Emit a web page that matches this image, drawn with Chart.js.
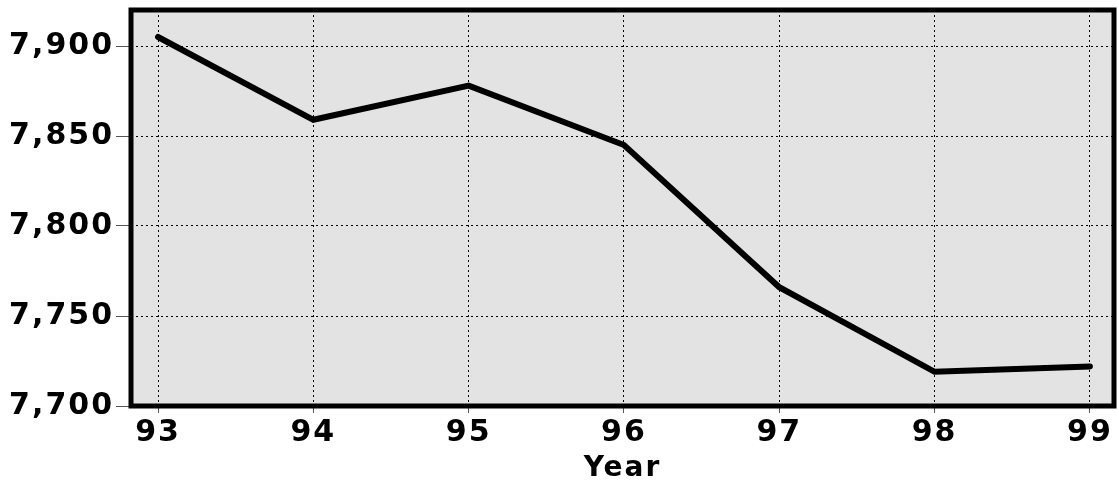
<!DOCTYPE html>
<html>
<head>
<meta charset="utf-8">
<script src="https://cdn.jsdelivr.net/npm/chart.js@4.4.0/dist/chart.umd.min.js"></script>
<style>
html,body{margin:0;padding:0;background:#fff;}
#wrap{width:1119px;height:483px;}
</style>
</head>
<body>
<div id="wrap"><canvas id="c" width="1119" height="483"></canvas></div>
<script>
const years = [93, 94, 95, 96, 97, 98, 99];
const values = [7905, 7859, 7878, 7845, 7766, 7719, 7722];
const yTicks = [7700, 7750, 7800, 7850, 7900];
const xTitle = 'Year';

const FONT = {family: '"DejaVu Sans", sans-serif', size: 30, weight: 'bold'};

const framePlugin = {
  id: 'frame',
  beforeDraw(chart) {
    const {ctx, chartArea: a} = chart;
    ctx.save();
    ctx.fillStyle = '#ffffff';
    ctx.fillRect(0, 0, chart.width, chart.height);
    ctx.fillStyle = '#e3e3e3';
    ctx.fillRect(a.left, a.top, a.right - a.left, a.bottom - a.top);
    ctx.restore();
    ctx.letterSpacing = '2px';
  },
  afterDraw(chart) {
    const {ctx, chartArea: a} = chart;
    ctx.save();
    ctx.strokeStyle = '#000';
    ctx.lineWidth = 5;
    ctx.strokeRect(a.left, a.top, a.right - a.left, a.bottom - a.top);
    ctx.restore();
    ctx.letterSpacing = '0px';
  }
};

new Chart(document.getElementById('c'), {
  type: 'line',
  data: {
    datasets: [{
      data: years.map((y, i) => ({x: y, y: values[i]})),
      borderColor: '#000',
      borderWidth: 6,
      pointRadius: 0,
      tension: 0,
      fill: false,
      borderCapStyle: 'round',
      borderJoinStyle: 'miter'
    }]
  },
  plugins: [framePlugin],
  options: {
    responsive: false,
    animation: false,
    layout: {padding: {top: 10, right: 5, left: 0, bottom: 0}},
    plugins: {legend: {display: false}, tooltip: {enabled: false}},
    scales: {
      x: {
        type: 'linear',
        min: 92.826,
        max: 99.155,
        afterBuildTicks: s => { s.ticks = years.map(v => ({value: v})); },
        afterFit: s => { s.height = 77; s.paddingLeft = 0; s.paddingRight = 0; },
        ticks: {
          color: '#000',
          font: FONT,
          padding: 2,
          maxRotation: 0,
          autoSkip: false,
          callback: v => String(v)
        },
        grid: {
          color: '#000',
          lineWidth: 1,
          tickColor: '#555',
          tickLength: 7,
          tickWidth: 1,
          tickBorderDash: []
        },
        border: {display: false, dash: [2, 3]},
        title: {
          display: true,
          text: xTitle,
          color: '#000',
          font: Object.assign({}, FONT, {size: 28, lineHeight: 1.0}),
          padding: {top: 0, bottom: 0}
        }
      },
      y: {
        type: 'linear',
        min: 7700,
        max: 7920,
        afterBuildTicks: s => { s.ticks = yTicks.map(v => ({value: v})); },
        afterFit: s => { s.width = 131; s.paddingTop = 0; s.paddingBottom = 0; },
        ticks: {
          color: '#000',
          font: FONT,
          padding: 2,
          callback: v => v.toLocaleString('en-US')
        },
        grid: {
          color: '#000',
          lineWidth: 1,
          tickColor: '#555',
          tickLength: 15,
          tickWidth: 1,
          tickBorderDash: []
        },
        border: {display: false, dash: [2, 3]}
      }
    }
  }
});
</script>
</body>
</html>
